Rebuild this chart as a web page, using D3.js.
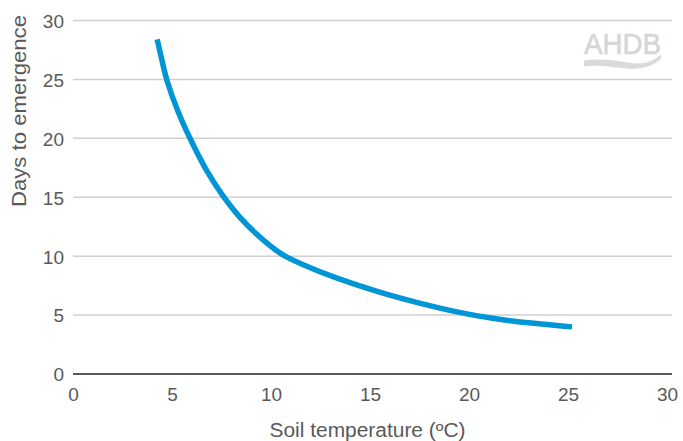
<!DOCTYPE html>
<html><head><meta charset="utf-8">
<script src="https://cdn.jsdelivr.net/npm/d3@7"></script>
<style>
html,body{margin:0;padding:0;background:#fff;}
svg{display:block;font-family:"Liberation Sans",Arial,Helvetica,sans-serif;}
</style></head>
<body><svg id="c" width="683" height="441"></svg>
<script>
// Data
const soilTemp = [4.25, 4.5, 4.7, 5.3, 5.9, 6.7, 7.6, 8.4, 9.2, 10.0, 10.6, 11.5, 13.15, 15.5, 17.5, 19.5, 21.2, 22.9, 25.2];
const daysToEmergence = [28.4, 26.6, 25.0, 22.2, 20.0, 17.3, 15.0, 13.3, 11.95, 10.8, 10.05, 9.35, 8.2, 6.9, 6.0, 5.2, 4.7, 4.35, 4.0];
const xTicks = [0, 5, 10, 15, 20, 25, 30];
const yTicks = [0, 5, 10, 15, 20, 25, 30];
const xTitle = "Soil temperature (ºC)";
const yTitle = "Days to emergence";
const logoText = "AHDB";

const svg = d3.select("#c");
const x = d3.scaleLinear().domain([0, 30]).range([73, 667]);
const y = d3.scaleLinear().domain([0, 30]).range([374, 20.5]);
const textCol = "#595959";

// gridlines
svg.append("g").selectAll("line").data(yTicks.filter(d => d > 0)).join("line")
  .attr("x1", x(0)).attr("x2", 672)
  .attr("y1", d => y(d)).attr("y2", d => y(d))
  .attr("stroke", "#d0d0d0").attr("stroke-width", 1.5);

// logo
const logo = svg.append("g");
logo.append("text").attr("x", 584).attr("y", 53.5).text(logoText)
  .attr("font-size", 30).attr("textLength", 77).attr("lengthAdjust", "spacingAndGlyphs")
  .attr("fill", "#d6d6d6").attr("stroke", "#d6d6d6").attr("stroke-width", 0.6);
logo.append("path")
  .attr("d", "M584,60.5 C598,58.5 612,59.5 628,62.5 C642,65 652,62.5 661,54.5 L661,59 C652,66.5 643,69.5 628,68.5 C612,67.5 598,64.5 584,66.5 Z")
  .attr("fill", "#dadada");

// y axis labels
const yAxis = d3.axisLeft(y).tickValues(yTicks).tickSize(0).tickPadding(0).tickFormat(d3.format("d"));
const ya = svg.append("g").attr("transform", "translate(64,0)").call(yAxis);
ya.select(".domain").remove();
ya.selectAll("text").attr("font-size", 19).attr("fill", textCol)
  .attr("font-family", "Liberation Sans, Arial, sans-serif").attr("dy", "0.36em");

// x axis labels
const xAxis = d3.axisBottom(x).tickValues(xTicks).tickSize(0).tickPadding(0).tickFormat(d3.format("d"));
const xa = svg.append("g").attr("transform", "translate(0,387)").call(xAxis);
xa.select(".domain").remove();
xa.selectAll("text").attr("font-size", 19).attr("fill", textCol)
  .attr("font-family", "Liberation Sans, Arial, sans-serif").attr("dy", "0.72em");

// baseline
svg.append("line").attr("x1", x(0)).attr("x2", 672).attr("y1", y(0)).attr("y2", y(0))
  .attr("stroke", "#5a5a5a").attr("stroke-width", 2);

// titles
svg.append("text").attr("x", 367.5).attr("y", 436.5).attr("text-anchor", "middle")
  .attr("font-size", 19.5).attr("textLength", 196).attr("lengthAdjust", "spacingAndGlyphs")
  .attr("fill", textCol).text(xTitle);
svg.append("text").attr("transform", "translate(25.5,111) rotate(-90)").attr("text-anchor", "middle")
  .attr("font-size", 19.5).attr("textLength", 192).attr("lengthAdjust", "spacingAndGlyphs")
  .attr("fill", textCol).text(yTitle);

// curve
const pts = soilTemp.map((t, i) => [t, daysToEmergence[i]]);
svg.append("path").datum(pts)
  .attr("d", d3.line().x(d => x(d[0])).y(d => y(d[1])).curve(d3.curveBasis))
  .attr("fill", "none").attr("stroke", "#0095d5").attr("stroke-width", 5.5);
</script></body></html>
